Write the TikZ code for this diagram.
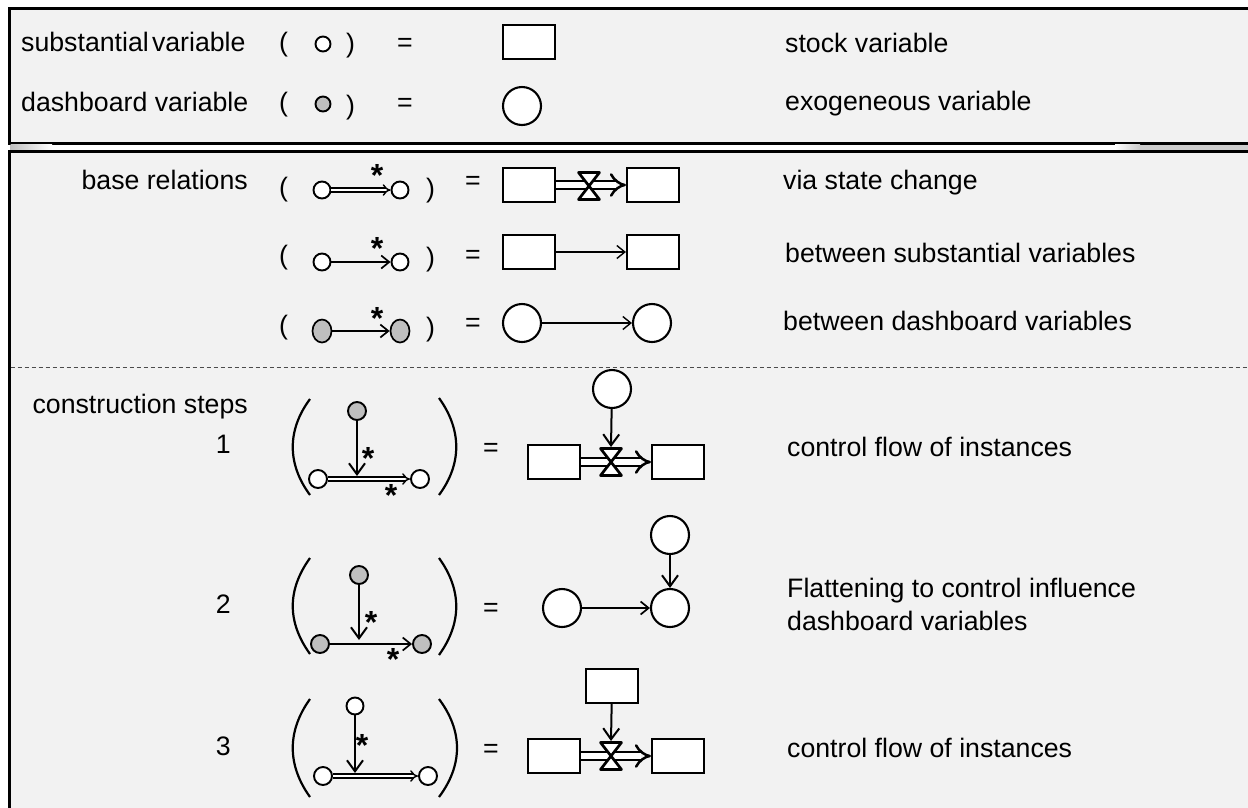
\documentclass[tikz,border=0pt]{standalone}
\usepackage{fontspec}
\setmainfont{Liberation Sans}
\usetikzlibrary{arrows.meta,shapes.geometric}
\definecolor{bgc}{HTML}{F2F2F2}
\definecolor{dvc}{HTML}{BFBFBF}
\begin{document}
\begin{tikzpicture}[x=1pt,y=-1pt,
  lab/.style={font=\fontsize{26.7}{30}\selectfont, inner sep=0pt, anchor=base west},
  labr/.style={lab, anchor=base east},
  labc/.style={lab, anchor=base},
  star/.style={font=\fontsize{32}{34}\selectfont\bfseries, inner sep=0pt, anchor=base},
  sv/.style={circle, draw, line width=1.9pt, fill=white, minimum size=17pt, inner sep=0pt},
  svs/.style={sv, minimum size=15pt},
  dv/.style={sv, fill=dvc},
  dve/.style={ellipse, draw, line width=1.7pt, fill=dvc, minimum width=19pt, minimum height=23pt, inner sep=0pt},
  stock/.style={rectangle, draw, line width=2.1pt, fill=white, minimum width=52pt, minimum height=34pt, inner sep=0pt},
  exo/.style={circle, draw, line width=2.1pt, fill=white, minimum size=38pt, inner sep=0pt},
  arr/.style={-{Straight Barb[length=8pt,width=13pt]}, line width=1.7pt},
  varr/.style={-{Straight Barb[length=11pt,width=16pt]}, line width=2pt},
  thindbl/.style={double=white, double distance=2.4pt, line width=1.4pt, -{Implies[scale=1.3]}},
  pipe/.style={double=white, double distance=5.5pt, line width=2.5pt, -{Implies[scale=1.25]}},
  paren/.style={line width=2.2pt},
  valvepic/.pic={\draw[line width=2.7pt, fill=white, line join=round] (-10.5,-13.5) -- (10.5,-13.5) -- (-10.5,13.5) -- (10.5,13.5) -- cycle; \coordinate (-top) at (0,-15);}
]
\useasboundingbox (0,0) rectangle (1248,807);
\clip (0,0) rectangle (1248,807);
\fill[white] (0,0) rectangle (1248,807);
% panels
\fill[bgc] (9,8.5) rectangle (1260,143);
\draw[line width=3pt] (9,8.5) rectangle (1260,143);
\shade[left color=dvc, right color=white] (10.5,144.5) rectangle (52,150);
\shade[left color=white, right color=dvc!80] (1115,144.5) rectangle (1140,150);
\fill[dvc!80] (1140,144.5) rectangle (1248,150);
\fill[bgc] (9,151.5) rectangle (1260,830);
\draw[line width=3pt] (1260,151.5) -- (9,151.5) -- (9,830);
\draw[dashed, dash pattern=on 4pt off 3pt, black!70, line width=0.8pt] (10.5,367) -- (1248,367);

% ---------- top panel
\node[lab] (t1) at (21,51) {substantial\hspace{0.12em}variable};
\node[lab] (t1a) at (279,51.5) {(};
\node[svs] (t1c) at (323,44) {};
\node[lab] (t1b) at (346,52.5) {)};
\node[labc] (t1e) at (405,51) {=};
\node[stock] (t1s) at (529,42) {};
\node[lab] (t1r) at (785,52) {stock variable};

\node[lab] (t2) at (21,111) {dashboard variable};
\node[lab] (t2a) at (279,111.5) {(};
\node[svs, fill=dvc] (t2c) at (323,104) {};
\node[lab] (t2b) at (346,114) {)};
\node[labc] (t2e) at (405,111) {=};
\node[exo, minimum size=38pt] (t2x) at (522,106) {};
\node[lab] (t2r) at (785,110) {exogeneous variable};

% ---------- base relations
\node[labr] (br) at (248,189) {base relations};
% row A
\node[lab] (aa) at (279,196.5) {(};
\node[sv] (a1) at (322,190) {};
\node[sv] (a2) at (400,190) {};
\draw[thindbl] (a1) -- (a2);
\node[star] (as) at (377,186) {*};
\node[lab] (ab) at (426,197.5) {)};
\node[labc] (ae) at (473,189) {=};
\node[stock] (b1) at (529,185) {};
\node[stock] (b2) at (653,185) {};
\draw[pipe] (b1) -- (b2);
\pic (va) at (589,186) {valvepic};
\node[lab] (ar) at (783,189) {via state change};
% row B
\node[lab] (ca) at (279,264.5) {(};
\node[sv] (c1) at (322,262) {};
\node[sv] (c2) at (400,262) {};
\draw[arr] (c1) -- (c2);
\node[star] (cs) at (377,259) {*};
\node[lab] (cb) at (426,266.5) {)};
\node[labc] (ce) at (473,263) {=};
\node[stock] (d1) at (529,252) {};
\node[stock] (d2) at (653,252) {};
\draw[arr, line width=1.4pt] (d1) -- (d2);
\node[lab] (cr) at (785,262) {between substantial variables};
% row C
\node[lab] (ea) at (279,334.5) {(};
\node[dve] (e1) at (322,331) {};
\node[dve] (e2) at (400,331) {};
\draw[arr] (e1) -- (e2);
\node[star] (es) at (377,329) {*};
\node[lab] (eb) at (426,336.5) {)};
\node[labc] (ee) at (473,331) {=};
\node[exo] (f1) at (522,323) {};
\node[exo] (f2) at (652,323) {};
\draw[arr, line width=1.4pt] (f1) -- (f2);
\node[lab] (er) at (783,330) {between dashboard variables};

% ---------- construction steps
\node[labr] (cst) at (248,413) {construction steps};
% step 1
\node[labr] (n1) at (231,453) {1};
\draw[paren] (310,399) .. controls (287,430) and (287,464) .. (310,495);
\draw[paren] (439,398) .. controls (462,430) and (462,464) .. (439,495);
\node[dv, minimum size=18pt] (g1) at (357,411) {};
\node[sv, minimum size=18pt] (h1) at (318,479) {};
\node[sv, minimum size=18pt] (h2) at (420,479) {};
\draw[thindbl] (h1) -- (h2);
\coordinate (g1e) at (357,476);
\draw[varr] (g1) -- (g1e);
\node[star] (s11) at (368,469) {*};
\node[star] (s12) at (391,506) {*};
\node[labc] (eq1) at (491,456) {=};
\node[exo] (k1) at (612,389) {};
\node[stock] (m1) at (554,462) {};
\node[stock] (m2) at (678,462) {};
\draw[pipe] (m1) -- (m2);
\pic (v1) at (611,462) {valvepic};
\draw[varr] (k1) -- (v1-top);
\node[lab] (r1) at (787,456) {control flow of instances};

% step 2
\node[labr] (n2) at (231,613) {2};
\draw[paren] (310,558) .. controls (287,590) and (287,622) .. (310,654);
\draw[paren] (439,558) .. controls (462,590) and (462,623) .. (439,655);
\node[dv, minimum size=18pt] (p0) at (359,575) {};
\node[dv, minimum size=18pt] (q1) at (320,644) {};
\node[dv, minimum size=18pt] (q2) at (422,644) {};
\draw[arr] (q1) -- (q2);
\coordinate (p0e) at (359,640);
\draw[varr] (p0) -- (p0e);
\node[star] (s21) at (371,633) {*};
\node[star] (s22) at (393,670) {*};
\node[labc] (eq2) at (491,616) {=};
\node[exo] (x1) at (562,608) {};
\node[exo] (x2) at (670,608) {};
\node[exo] (x3) at (670,535) {};
\draw[arr] (x1) -- (x2);
\draw[varr] (x3) -- (x2);
\node[lab] (r2a) at (787,597) {Flattening to control influence};
\node[lab] (r2b) at (787,630) {dashboard variables};

% step 3
\node[labr] (n3) at (231,755) {3};
\draw[paren] (310,699) .. controls (287,731) and (287,765) .. (310,797);
\draw[paren] (439,699) .. controls (463,731) and (463,765) .. (439,797);
\node[sv, minimum size=17pt] (u0) at (355,706) {};
\node[sv, minimum size=18pt] (u1) at (323,776) {};
\node[sv, minimum size=18pt] (u2) at (428,776) {};
\draw[thindbl] (u1) -- (u2);
\coordinate (u0e) at (355,773);
\draw[varr] (u0) -- (u0e);
\node[star] (s31) at (362,756) {*};
\node[labc] (eq3) at (491,757) {=};
\node[stock] (w0) at (612,686) {};
\node[stock] (w1) at (554,756) {};
\node[stock] (w2) at (678,756) {};
\draw[pipe] (w1) -- (w2);
\pic (v3) at (611,756) {valvepic};
\draw[varr] (w0) -- (v3-top);
\node[lab] (r3) at (787,757) {control flow of instances};
\end{tikzpicture}
\end{document}
